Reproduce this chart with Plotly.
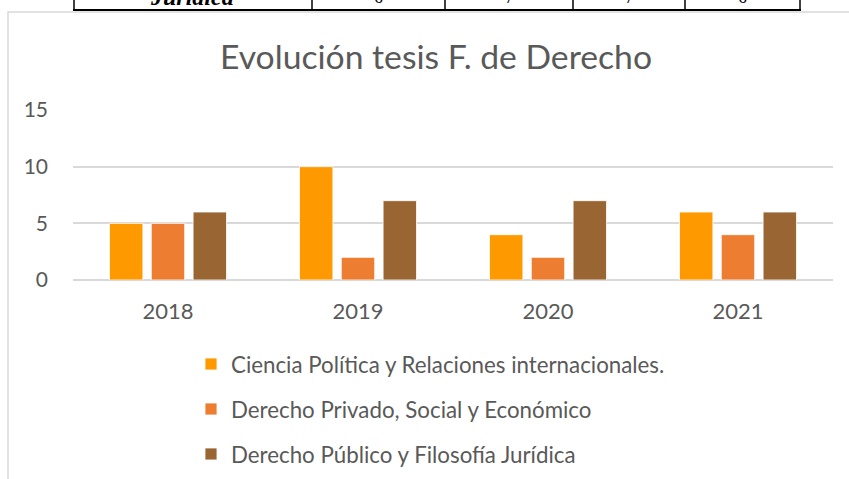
import plotly.graph_objects as go

categories = ["2018", "2019", "2020", "2021"]
series_names = [
    "Ciencia Política y Relaciones internacionales.",
    "Derecho Privado, Social y Económico",
    "Derecho Público y Filosofía Jurídica",
]
ciencia_politica = [5, 10, 4, 6]
derecho_privado = [5, 2, 2, 4]
derecho_publico = [6, 7, 7, 6]
colors = ["#FF9900", "#ED7D31", "#996633"]
title_text = "Evolución tesis F. de Derecho"
table_label = "Jurídica"

W, H = 849, 479
L, R, T, B = 73, 833, 110, 280  # plot area in pixels


def px(x):
    return (x - L) / (R - L)


def py(y):
    return (B - y) / (B - T)


fig = go.Figure()
for i, (name, vals) in enumerate(zip(series_names, [ciencia_politica, derecho_privado, derecho_publico])):
    fig.add_trace(go.Bar(
        x=categories, y=vals, name=name,
        marker=dict(color=colors[i], line=dict(color="rgba(255,255,255,0.8)", width=1)),
        legendgroup=f"g{i}",
    ))

GRAY = "#595959"
FONT = "Lato, Open Sans, sans-serif"

shapes = []
# chart border (light gray), running off right and bottom
shapes.append(dict(type="rect", xref="paper", yref="paper",
                   x0=px(8), x1=px(860), y0=py(500), y1=py(12),
                   line=dict(color="#D9D9D9", width=1.5), fillcolor="rgba(0,0,0,0)", layer="below"))
# table fragment at top
cols = [74, 312, 445, 573, 685, 800]
shapes.append(dict(type="line", xref="paper", yref="paper",
                   x0=px(73), x1=px(801), y0=py(10), y1=py(10),
                   line=dict(color="black", width=2)))
for c in cols:
    shapes.append(dict(type="line", xref="paper", yref="paper",
                       x0=px(c), x1=px(c), y0=py(-5), y1=py(10),
                       line=dict(color="black", width=1.5)))

annotations = [
    dict(text=f"<b><i>{table_label}</i></b>", xref="paper", yref="paper",
         x=px(192), y=py(-3), xanchor="center", yanchor="middle", showarrow=False,
         font=dict(family="Liberation Serif", size=24, color="black")),
]
for j, v in enumerate(derecho_publico):
    cx = (cols[j + 1] + cols[j + 2]) / 2
    annotations.append(dict(text=str(v), xref="paper", yref="paper",
                            x=px(cx), y=py(-3), xanchor="center", yanchor="middle",
                            showarrow=False,
                            font=dict(family="Liberation Serif", size=18, color="black")))
annotations.append(dict(text=title_text, xref="paper", yref="paper",
                        x=px(436), y=py(56), xanchor="center", yanchor="middle",
                        showarrow=False, font=dict(family=FONT, size=33.7, color=GRAY)))

fig.update_layout(
    width=W, height=H,
    margin=dict(l=L, r=W - R, t=T, b=H - B, pad=0, autoexpand=False),
    paper_bgcolor="white", plot_bgcolor="white",
    barmode="group", bargap=0.34, bargroupgap=0.2,
    font=dict(family=FONT, size=22, color=GRAY),
    xaxis=dict(showgrid=False, showline=False, ticks="", ticklabelstandoff=16,
               tickfont=dict(size=22, color=GRAY)),
    yaxis=dict(range=[0, 15], dtick=5, showgrid=True, gridcolor="#D9D9D9", gridwidth=1.5,
               zeroline=True, zerolinecolor="#D9D9D9", zerolinewidth=1.5,
               showline=False, ticks="", ticklabelstandoff=24,
               tickfont=dict(size=21, color=GRAY)),
    legend=dict(orientation="v", x=px(191), y=py(343), xanchor="left", yanchor="top",
                font=dict(size=22.3, color=GRAY), tracegroupgap=13, itemwidth=30,
                bgcolor="rgba(0,0,0,0)"),
    shapes=shapes, annotations=annotations,
    showlegend=True,
)

fig.write_html("out.html", config={"displayModeBar": False},
               post_script="document.body.style.margin='0';")
